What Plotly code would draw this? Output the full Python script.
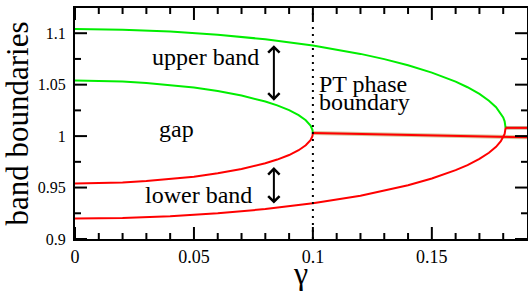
import plotly.graph_objects as go

# ---- data ----
gamma_inner = [0, 0.01, 0.02, 0.03, 0.04, 0.05, 0.06, 0.07, 0.08, 0.085, 0.09, 0.094, 0.097, 0.099, 0.0998, 0.1]
inner_upper = [1.054, 1.0537, 1.0530, 1.0516, 1.0497, 1.0472, 1.0438, 1.0394, 1.0336, 1.0299, 1.0252, 1.0204, 1.0154, 1.0102, 1.0062, 1.003]
inner_lower = [0.954, 0.9542, 0.9550, 0.9563, 0.9581, 0.9606, 0.9638, 0.9680, 0.9736, 0.9772, 0.9816, 0.9863, 0.9911, 0.9961, 0.9999, 1.003]

gamma_outer = [0, 0.02, 0.04, 0.06, 0.08, 0.1, 0.12, 0.13, 0.14, 0.15, 0.16, 0.165, 0.17, 0.174, 0.177, 0.179, 0.18, 0.1806, 0.181]
outer_upper = [1.104, 1.1034, 1.1016, 1.0986, 1.0941, 1.0880, 1.0799, 1.0748, 1.0688, 1.0617, 1.0529, 1.0475, 1.0410, 1.0344, 1.0281, 1.0222, 1.0181, 1.0144, 1.008]
outer_lower = [0.920, 0.9205, 0.9222, 0.9250, 0.9291, 0.9347, 0.9421, 0.9468, 0.9522, 0.9588, 0.9669, 0.9718, 0.9778, 0.9838, 0.9896, 0.9950, 0.9988, 1.0022, 1.008]

gamma_merged_inner = [0.1, 0.13, 0.16, 0.19]
merged_inner = [1.003, 1.0016, 1.0002, 0.9988]
gamma_merged_outer = [0.181, 0.19]
merged_outer = [1.008, 1.008]

pt_boundary = 0.1

x_tickvals = [0, 0.05, 0.1, 0.15]
x_ticktext = ["0", "0.05", "0.1", "0.15"]
x_minorvals = [0.01, 0.02, 0.03, 0.04, 0.06, 0.07, 0.08, 0.09, 0.11, 0.12, 0.13, 0.14, 0.16, 0.17, 0.18]
y_tickvals = [0.9, 0.95, 1.0, 1.05, 1.1]
y_ticktext = ["0.9", "0.95", "1", "1.05", "1.1"]
y_minorvals = [0.925, 0.975, 1.025, 1.075]

X_RANGE = [0, 0.19]
Y_RANGE = [0.9, 1.1245]

GREEN = "#00ee00"
RED = "#ff0000"
SERIF = "'Liberation Serif', 'DejaVu Serif', serif"

# plot-area size in pixels (528x291 canvas minus margins)
PLOT_W = 528 - 75 - 1
PLOT_H = 291 - 8 - 52
X_PER_PX = (X_RANGE[1] - X_RANGE[0]) / PLOT_W
Y_PER_PX = (Y_RANGE[1] - Y_RANGE[0]) / PLOT_H

fig = go.Figure()

line_kw = dict(mode="lines", showlegend=False, hoverinfo="skip")
fig.add_trace(go.Scatter(x=gamma_inner, y=inner_upper, line=dict(color=GREEN, width=2), **line_kw))
fig.add_trace(go.Scatter(x=gamma_outer, y=outer_upper, line=dict(color=GREEN, width=2), **line_kw))
fig.add_trace(go.Scatter(x=gamma_merged_inner, y=merged_inner, line=dict(color="rgba(180,140,60,0.5)", width=4), **line_kw))
fig.add_trace(go.Scatter(x=gamma_merged_outer, y=merged_outer, line=dict(color="rgba(120,80,20,0.5)", width=3.5), **line_kw))
fig.add_trace(go.Scatter(x=gamma_inner, y=inner_lower, line=dict(color=RED, width=2), **line_kw))
fig.add_trace(go.Scatter(x=gamma_outer, y=outer_lower, line=dict(color=RED, width=2), **line_kw))
fig.add_trace(go.Scatter(x=gamma_merged_inner, y=merged_inner, line=dict(color=RED, width=2), **line_kw))
fig.add_trace(go.Scatter(x=gamma_merged_outer, y=merged_outer, line=dict(color=RED, width=2), **line_kw))

# ---- inside tick marks on all four sides, drawn as line traces ----
tx, ty = [], []
for vals, length in [(x_tickvals, 12), (x_minorvals, 6)]:
    dy = length * Y_PER_PX
    for v in vals:
        tx += [v, v, None, v, v, None]
        ty += [Y_RANGE[0], Y_RANGE[0] + dy, None, Y_RANGE[1], Y_RANGE[1] - dy, None]
for vals, length in [(y_tickvals, 12), (y_minorvals, 6)]:
    dx = length * X_PER_PX
    for v in vals:
        tx += [X_RANGE[0], X_RANGE[0] + dx, None, X_RANGE[1], X_RANGE[1] - dx, None]
        ty += [v, v, None, v, v, None]
fig.add_trace(go.Scatter(x=tx, y=ty, mode="lines", line=dict(color="black", width=2),
                         showlegend=False, hoverinfo="skip", connectgaps=False))

# PT phase boundary (dotted)
fig.add_trace(go.Scatter(x=[pt_boundary, pt_boundary], y=Y_RANGE, mode="lines",
                         line=dict(color="black", width=2, dash="2px,5px"),
                         showlegend=False, hoverinfo="skip"))

txt_font = dict(family=SERIF, size=24, color="black")
fig.add_annotation(x=0.0550, y=1.0767, text="upper band", showarrow=False, font=txt_font,
                   xanchor="center", yanchor="middle")
fig.add_annotation(x=0.0426, y=1.0068, text="gap", showarrow=False, font=txt_font,
                   xanchor="center", yanchor="middle")
fig.add_annotation(x=0.0521, y=0.9427, text="lower band", showarrow=False, font=txt_font,
                   xanchor="center", yanchor="middle")
fig.add_annotation(x=0.1017, y=1.0505, text="PT phase", showarrow=False, font=txt_font,
                   xanchor="left", yanchor="middle")
fig.add_annotation(x=0.1017, y=1.0330, text="boundary", showarrow=False, font=txt_font,
                   xanchor="left", yanchor="middle")

arrow_x = 0.0836
for top, bot in [(1.0883, 1.0330), (0.9699, 0.9330)]:
    fig.add_annotation(x=arrow_x, y=top, ax=arrow_x, ay=bot, axref="x", ayref="y",
                       xref="x", yref="y", text="", showarrow=True,
                       arrowhead=4, startarrowhead=4, arrowside="end+start",
                       arrowwidth=2, arrowsize=1.1, startarrowsize=1.1, arrowcolor="black")

axis_common = dict(showline=True, linewidth=2, linecolor="black", mirror=True,
                   ticks="", showgrid=False, zeroline=False, automargin=False, tickmode="array")

fig.update_layout(
    width=528, height=291,
    margin=dict(l=75, r=1, t=8, b=52),
    paper_bgcolor="white", plot_bgcolor="white",
    font=dict(family=SERIF, color="black"),
    xaxis=dict(range=X_RANGE, tickvals=x_tickvals, ticktext=x_ticktext,
               tickfont=dict(family=SERIF, size=18, color="black"),
               title=dict(text="γ", font=dict(family=SERIF, size=32, color="black"), standoff=0),
               **axis_common),
    yaxis=dict(range=Y_RANGE, tickvals=y_tickvals, ticktext=y_ticktext,
               tickfont=dict(family=SERIF, size=16, color="black"), ticklabelstandoff=4,
               title=dict(text="band boundaries", font=dict(family=SERIF, size=31, color="black"), standoff=6),
               **axis_common),
)

fig.write_html("out.html", post_script="document.body.style.margin='0';",
               config={"displayModeBar": False})
